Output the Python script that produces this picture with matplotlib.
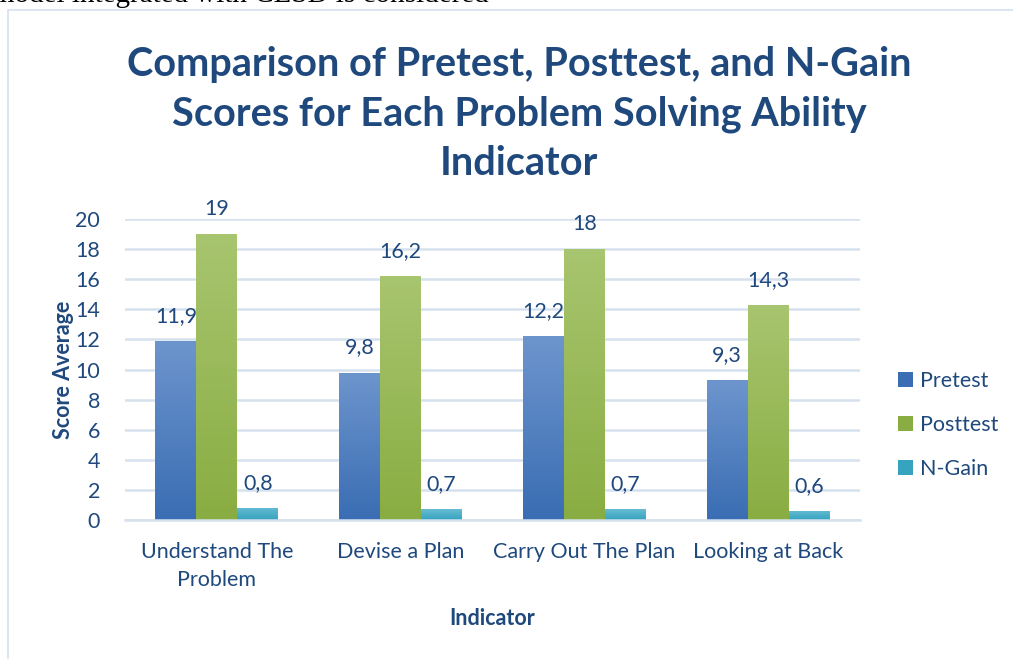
import numpy as np
import matplotlib
matplotlib.use("Agg")
import matplotlib.pyplot as plt
from matplotlib.patches import Rectangle
from matplotlib.colors import LinearSegmentedColormap

# data
indicators = ["Understand The\nProblem", "Devise a Plan", "Carry Out The Plan", "Looking at Back"]
pretest = [11.9, 9.8, 12.2, 9.3]
posttest = [19, 16.2, 18, 14.3]
ngain = [0.8, 0.7, 0.7, 0.6]
series_names = ["Pretest", "Posttest", "N-Gain"]

plt.rcParams["font.family"] = ["Lato", "DejaVu Sans"]
txt = "#1F497D"
grid_c = "#D6E1EF"
fs = 15.5

fig = plt.figure(figsize=(10.13, 6.59), dpi=100)
W, H = 1013, 659

# page text above the chart (cut off) and the chart frame
fig.text(-8 / W, 1 - 2 / H, "model integrated with CLSD is considered", family="Liberation Serif",
         fontsize=21, va="baseline", ha="left", color="black")
fig.add_artist(Rectangle((8 / W, -0.1), 1.2, 1 - 10 / H + 0.1, transform=fig.transFigure,
                         fill=False, edgecolor=grid_c, lw=1.2))

ax = fig.add_axes([125 / W, 1 - 520 / H, (860 - 125) / W, (520 - 219) / H])

x = np.arange(len(indicators))
w = 0.223
grads = [("#6D95CD", "#3A6DB3"), ("#A8C56F", "#89AD42"), ("#66BCD3", "#36A3BF")]

for i, (vals, (top_c, bot_c), name) in enumerate(zip([pretest, posttest, ngain], grads, series_names)):
    bars = ax.bar(x + (i - 1) * w, vals, width=w, color=bot_c, label=name, zorder=2)
    cmap = LinearSegmentedColormap.from_list(name, [bot_c, top_c])
    for b, v in zip(bars, vals):
        bx = b.get_x()
        im = ax.imshow(np.linspace(0, 1, 100).reshape(-1, 1), cmap=cmap, origin="lower",
                       extent=[bx, bx + b.get_width(), 0, v], aspect="auto", zorder=2.5)
        im.set_clip_path(b)
        ax.text(bx + b.get_width() / 2, v + 1.0, f"{v:g}".replace(".", ","),
                ha="center", va="bottom", fontsize=fs, color=txt)

ax.set_xlim(-0.5, 3.5)
ax.set_ylim(0, 20)
ax.set_yticks(range(0, 21, 2))
ax.set_xticks(x)
ax.set_xticklabels(indicators, fontsize=fs, color=txt, linespacing=1.5)
ax.tick_params(axis="y", labelsize=fs, labelcolor=txt, length=0, pad=18)
ax.tick_params(axis="x", length=0, pad=16)
ax.yaxis.grid(True, color=grid_c, lw=1.8, zorder=0)
ax.set_axisbelow(True)
for s in ["top", "right", "left"]:
    ax.spines[s].set_visible(False)
ax.spines["bottom"].set_color(grid_c)
ax.spines["bottom"].set_linewidth(1.8)

ax.set_ylabel("Score Average", fontsize=fs, fontweight="bold", color=txt, labelpad=1)
ax.set_xlabel("Indicator", fontsize=fs, fontweight="bold", color=txt, labelpad=13)

fig.text(519 / W, 1 - 114 / H,
         "Comparison of Pretest, Posttest, and N-Gain\nScores for Each Problem Solving Ability\nIndicator",
         ha="center", va="center", fontsize=28.5, fontweight="bold", color=txt, linespacing=1.42)

leg = ax.legend(loc="center left", bbox_to_anchor=(1.025, 0.315), frameon=False, fontsize=fs,
                handlelength=0.7, handleheight=0.7, labelspacing=1.12, handletextpad=0.35)
for t in leg.get_texts():
    t.set_color(txt)

fig.savefig("out.png", dpi=100)
